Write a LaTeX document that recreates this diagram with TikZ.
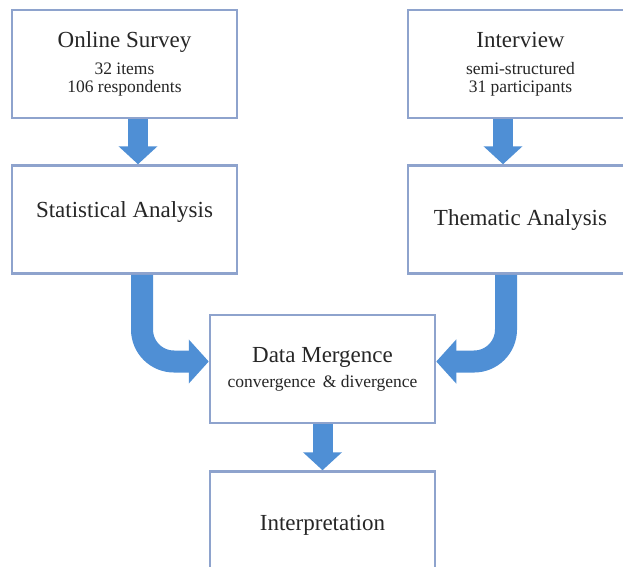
\documentclass[tikz,border=0pt]{standalone}
\usepackage{fontspec}
\setmainfont{Liberation Serif}
\usetikzlibrary{arrows.meta,calc,positioning}
\definecolor{BoxEdge}{HTML}{8EA3CD}
\definecolor{FlowBlue}{HTML}{4F8FD5}
\definecolor{InkGray}{HTML}{262626}
\newcommand{\subline}{\fontsize{17.5}{18}\selectfont}

\begin{document}
\begin{tikzpicture}[
        x=1pt,y=-1pt,
        node distance=45pt,
        box/.style={draw=BoxEdge,fill=white,line width=2.5pt,align=center,
          minimum width=225pt,minimum height=108pt,inner sep=0pt,text=InkGray,
          font=\fontsize{23}{18}\selectfont},
        flow/.style={-{Triangle[width=38pt,length=18pt]},line width=20pt,color=FlowBlue},
        curveflow/.style={-{Triangle[width=43pt,length=20pt]},line width=22pt,color=FlowBlue,
          rounded corners=32pt}
      ]
        \clip (0,0) rectangle (623,566);
        \useasboundingbox (0,0) rectangle (623,566);
        \node[box] (survey) at (124.5,64)
          {Online Survey\\[9pt] \subline 32 items\\ \subline 106 respondents};
        \node[box,below=of survey,text depth=20pt] (stats) {Statistical Analysis};
        \node[box] (interview) at (520.5,64)
          {Interview\\[9pt] \subline semi-structured\\ \subline 31 participants};
        \node[box,below=of interview] (thematic) {Thematic Analysis};
        \node[box,below=39pt of $(stats.south)!0.5!(thematic.south)$] (merge)
          {Data Mergence\\[7pt] \subline convergence \,\& divergence};
        \node[box,below=46pt of merge] (interp) {Interpretation};
        \draw[flow] ([xshift=13.5pt]survey.south) -- ([xshift=13.5pt]stats.north);
        \draw[flow] ([xshift=-17.5pt]interview.south) -- ([xshift=-17.5pt]thematic.north);
        \draw[curveflow] ([xshift=17.5pt]stats.south) |- ([yshift=7.5pt]merge.west);
        \draw[curveflow] ([xshift=-14.5pt]thematic.south) |- ([yshift=7.5pt]merge.east);
        \draw[flow] (merge.south) -- (interp.north);
      \end{tikzpicture}
\end{document}
